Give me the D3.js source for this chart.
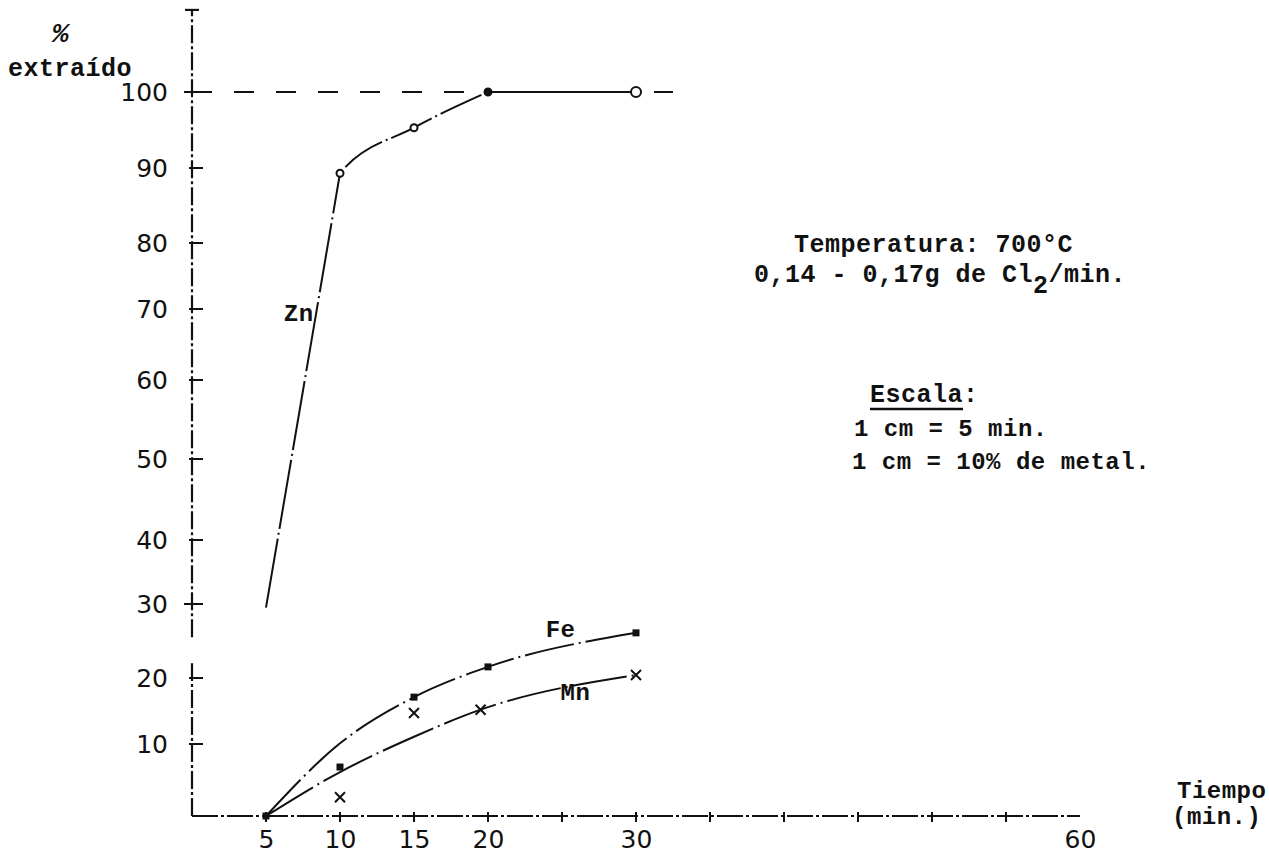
<!DOCTYPE html>
<html>
<head>
<meta charset="utf-8">
<script src="https://cdn.jsdelivr.net/npm/d3@7"></script>
<style>
  html, body { margin: 0; padding: 0; background: #fff; }
  svg { display: block; }
  .mono { font-family: "Liberation Mono", "DejaVu Sans Mono", monospace; font-weight: bold; fill: #111; letter-spacing: 0.5px; }
</style>
</head>
<body>
<svg id="chart" width="1269" height="855"></svg>
<script>
// Extraction of Zn, Fe and Mn by chlorination at 700 °C (% extracted vs time in minutes)

// Y axis ticks and labels (% extracted)
const yTicks = [0, 10, 20, 30, 40, 50, 60, 70, 80, 90, 100];
const yTickLabels = ["", "10", "20", "30", "40", "50", "60", "70", "80", "90", "100"];

// X axis ticks and labels (minutes)
const xTicks = [5, 10, 15, 20, 25, 30, 35, 40, 45, 50, 55];
const xLabelValues = [5, 10, 15, 20, 30, 60];

// Zinc: measured points (the curve follows them)
const znTimes = [5, 10, 15, 20, 30];
const znValues = [29.5, 89.3, 95.3, 100, 100];

// Iron: measured points and smoothed curve
const feTimes = [5, 10, 15, 20, 30];
const feValues = [0, 6.8, 17.1, 21.5, 26.1];
const feCurve = [0, 10.1, 17.1, 21.5, 26.1];

// Manganese: measured points and smoothed curve
const mnTimes = [5, 10, 15, 19.5, 30];
const mnValues = [0, 2.6, 14.7, 15.2, 20.4];
const mnCurve = [0, 6.1, 11.1, 15.2, 20.4];

const ink = "#111";
const svg = d3.select("#chart");

// Hand-ruled axes: the y scale follows the spacing of the ruled ticks
const x = d3.scaleLinear().domain([0, 60]).range([192, 1080]);
const y = d3.scaleLinear()
  .domain([0, 10, 20, 30, 40, 50, 60, 70, 80, 90, 100])
  .range([816, 744, 678, 604, 540, 459, 380, 309, 243, 168, 92]);

const axisDash = "18,3,3,3";

// ---- Y axis (with a break between 20 and 30) ----
const yAxisTop = 110.8;
[[0, 22], [25.5, yAxisTop]].forEach(([a, b]) => {
  svg.append("line")
    .attr("x1", x(0)).attr("x2", x(0))
    .attr("y1", y(a)).attr("y2", y(b))
    .attr("stroke", ink).attr("stroke-width", 2.2)
    .attr("stroke-dasharray", axisDash);
});
// cap at the top of the y axis
svg.append("line")
  .attr("x1", x(0) - 7).attr("x2", x(0) + 7)
  .attr("y1", y(yAxisTop)).attr("y2", y(yAxisTop))
  .attr("stroke", ink).attr("stroke-width", 2.2);

const yAxis = d3.axisLeft(y)
  .tickValues(yTicks.filter(d => d > 0))
  .tickSize(0)
  .tickPadding(0)
  .tickFormat(d => yTickLabels[yTicks.indexOf(d)]);
const gy = svg.append("g").attr("transform", `translate(${x(0) - 24},0)`).call(yAxis);
gy.select(".domain").remove();
gy.selectAll("text")
  .attr("font-size", 25)
  .attr("font-family", "DejaVu Sans, sans-serif")
  .attr("fill", ink);

// tick marks on the y axis
svg.append("g").selectAll("line")
  .data(yTicks.filter(d => d > 0))
  .join("line")
  .attr("x1", d => (d === 100 || d === 30) ? x(0) - 8 : x(0) - 3)
  .attr("x2", x(0) + 11)
  .attr("y1", d => y(d)).attr("y2", d => y(d))
  .attr("stroke", ink).attr("stroke-width", 2);

// ---- X axis ----
svg.append("line")
  .attr("x1", x(0)).attr("x2", x(60))
  .attr("y1", y(0)).attr("y2", y(0))
  .attr("stroke", ink).attr("stroke-width", 2.2)
  .attr("stroke-dasharray", "26,3,3,3");

const xAxis = d3.axisBottom(x)
  .tickValues(xLabelValues)
  .tickSize(0)
  .tickPadding(0)
  .tickFormat(d3.format("d"));
const gx = svg.append("g").attr("transform", `translate(0,${y(0) + 32})`).call(xAxis);
gx.select(".domain").remove();
gx.selectAll("text")
  .attr("font-size", 25)
  .attr("font-family", "DejaVu Sans, sans-serif")
  .attr("fill", ink)
  .attr("dy", "0");

svg.append("g").selectAll("line")
  .data(xTicks)
  .join("line")
  .attr("x1", d => x(d)).attr("x2", d => x(d))
  .attr("y1", y(0) - 4).attr("y2", y(0) + 6)
  .attr("stroke", ink).attr("stroke-width", 2);

// ---- 100 % reference line ----
svg.append("line")
  .attr("x1", x(0)).attr("x2", x(32.5))
  .attr("y1", y(100)).attr("y2", y(100))
  .attr("stroke", ink).attr("stroke-width", 2)
  .attr("stroke-dasharray", "20,22");

// ---- Curves ----
const smooth = d3.line().x(d => x(d[0])).y(d => y(d[1])).curve(d3.curveMonotoneX);
const straight = d3.line().x(d => x(d[0])).y(d => y(d[1]));

// Zn rises straight to the 10 min point, bends over up to 20 min,
// then runs flat along 100 %
const zn = d3.zip(znTimes, znValues);
svg.append("clipPath").attr("id", "zn-bend")
  .append("rect")
  .attr("x", x(znTimes[1])).attr("y", 0)
  .attr("width", x(60) - x(znTimes[1])).attr("height", y(0));
svg.append("path")
  .datum(zn.slice(0, 2))
  .attr("d", straight)
  .attr("fill", "none").attr("stroke", ink).attr("stroke-width", 2)
  .attr("stroke-dasharray", "70,4,2,4");
svg.append("path")
  .datum(zn.slice(0, 4))
  .attr("d", smooth)
  .attr("clip-path", "url(#zn-bend)")
  .attr("fill", "none").attr("stroke", ink).attr("stroke-width", 2)
  .attr("stroke-dasharray", "45,4,2,4")
  .attr("stroke-dashoffset", -560);
svg.append("path")
  .datum(zn.slice(3))
  .attr("d", straight)
  .attr("fill", "none").attr("stroke", ink).attr("stroke-width", 2.2);

svg.append("path")
  .datum(d3.zip(feTimes, feCurve))
  .attr("d", smooth)
  .attr("fill", "none").attr("stroke", ink).attr("stroke-width", 2)
  .attr("stroke-dasharray", "50,5,2,5");

svg.append("path")
  .datum(d3.zip(mnTimes, mnCurve))
  .attr("d", smooth)
  .attr("fill", "none").attr("stroke", ink).attr("stroke-width", 2)
  .attr("stroke-dasharray", "55,5,2,5");

// ---- Markers ----
// Zn: small open circles
svg.append("g").selectAll("circle")
  .data(zn.slice(1))
  .join("circle")
  .attr("cx", d => x(d[0])).attr("cy", d => y(d[1]))
  .attr("r", (d, i) => i === 3 ? 5 : 3.5)
  .attr("fill", (d, i) => i === 2 ? ink : "#fff")
  .attr("stroke", ink).attr("stroke-width", 2);

// Fe: small filled squares
svg.append("g").selectAll("rect")
  .data(d3.zip(feTimes, feValues))
  .join("rect")
  .attr("x", d => x(d[0]) - 3.5).attr("y", d => y(d[1]) - 3.5)
  .attr("width", 7).attr("height", 7)
  .attr("fill", ink);

// Mn: crosses
svg.append("g").selectAll("path")
  .data(d3.zip(mnTimes, mnValues).slice(1))
  .join("path")
  .attr("d", d => {
    const cx = x(d[0]), cy = y(d[1]), s = 5;
    return `M${cx - s},${cy - s}L${cx + s},${cy + s}M${cx - s},${cy + s}L${cx + s},${cy - s}`;
  })
  .attr("stroke", ink).attr("stroke-width", 2).attr("fill", "none");

// ---- Series labels ----
const label = (txt, tx, ty) => svg.append("text")
  .attr("class", "mono").attr("font-size", 24)
  .attr("x", x(tx)).attr("y", y(ty)).text(txt);
label("Zn", 6.2, 68.3);
label("Fe", 23.9, 25.5);
label("Mn", 24.9, 16.7);

// ---- Axis titles ----
svg.append("text").attr("class", "mono").attr("font-size", 28)
  .attr("x", 52).attr("y", 42).attr("font-style", "italic").text("%");
svg.append("text").attr("class", "mono").attr("font-size", 25)
  .attr("letter-spacing", 1.5)
  .attr("x", 8).attr("y", 76).text("extraído");

svg.append("text").attr("class", "mono").attr("font-size", 24)
  .attr("x", 1177).attr("y", 798).text("Tiempo");
svg.append("text").attr("class", "mono").attr("font-size", 24)
  .attr("x", 1172).attr("y", 824).text("(min.)");

// ---- Notes ----
svg.append("text").attr("class", "mono").attr("font-size", 25)
  .attr("x", 794).attr("y", 252).text("Temperatura: 700°C");

const t2 = svg.append("text").attr("class", "mono").attr("font-size", 25)
  .attr("x", 754).attr("y", 282);
t2.append("tspan").text("0,14 - 0,17g de Cl");
t2.append("tspan").attr("dy", 11).text("2");
t2.append("tspan").attr("dy", -11).text("/min.");

const esc = svg.append("text").attr("class", "mono").attr("font-size", 25)
  .attr("x", 870).attr("y", 402).text("Escala:");
const escW = esc.node().getComputedTextLength() * 6 / 7;
svg.append("line")
  .attr("x1", 870).attr("x2", 870 + escW)
  .attr("y1", 409).attr("y2", 409)
  .attr("stroke", ink).attr("stroke-width", 2.5);

svg.append("text").attr("class", "mono").attr("font-size", 24)
  .attr("letter-spacing", 0)
  .attr("x", 854).attr("y", 436).text("1 cm = 5 min.");
svg.append("text").attr("class", "mono").attr("font-size", 24)
  .attr("letter-spacing", 0)
  .attr("x", 852).attr("y", 469).text("1 cm = 10% de metal.");
</script>
</body>
</html>
